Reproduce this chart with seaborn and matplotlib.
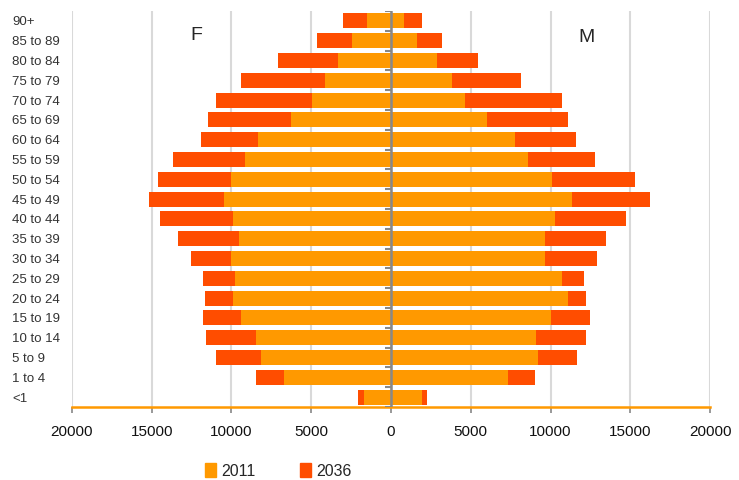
import matplotlib
matplotlib.use("Agg")
import matplotlib.pyplot as plt
import numpy as np
import pandas as pd
import seaborn as sns
from matplotlib.patches import Patch

# age bands, top of the pyramid first
AGE_GROUPS = [
    "90+", "85 to 89", "80 to 84", "75 to 79", "70 to 74", "65 to 69",
    "60 to 64", "55 to 59", "50 to 54", "45 to 49", "40 to 44", "35 to 39",
    "30 to 34", "25 to 29", "20 to 24", "15 to 19", "10 to 14", "5 to 9",
    "1 to 4", "<1",
]

FEMALE_2011 = [1500, 2440, 3310, 4125, 4940, 6250, 8310, 9125, 10000, 10440,
               9875, 9500, 10000, 9750, 9875, 9375, 8440, 8125, 6690, 1690]
FEMALE_2036 = [2980, 4625, 7060, 9375, 11000, 11500, 11940, 13690, 14625, 15190,
               14500, 13375, 12560, 11810, 11690, 11810, 11625, 11000, 8440, 2060]
MALE_2011 = [810, 1625, 2875, 3810, 4625, 6000, 7750, 8560, 10125, 11375,
             10310, 9625, 9625, 10690, 11125, 10000, 9060, 9190, 7310, 1940]
MALE_2036 = [1940, 3190, 5440, 8125, 10750, 11125, 11625, 12810, 15310, 16250,
             14750, 13500, 12940, 12125, 12250, 12500, 12250, 11690, 9000, 2250]

X_TICKS = [-20000, -15000, -10000, -5000, 0, 5000, 10000, 15000, 20000]

COLOR_2011 = "#FF9900"
COLOR_2036 = "#FF4D00"
GRID = "#D9D9D9"
AXIS_GRAY = "#888888"


def main() -> None:
    sns.set_theme(style="white")
    plt.rcParams["font.family"] = ["Liberation Sans", "DejaVu Sans"]

    df = pd.DataFrame({
        "age": AGE_GROUPS,
        "f2011": -np.array(FEMALE_2011),
        "f2036": -np.array(FEMALE_2036),
        "m2011": MALE_2011,
        "m2036": MALE_2036,
    })

    fig = plt.figure(figsize=(7.39, 4.8), dpi=100)
    ax = fig.add_axes([72 / 739, 1 - 407 / 480, (710 - 72) / 739, (407 - 11) / 480])

    bar_kw = dict(y="age", order=AGE_GROUPS, orient="h", width=0.76,
                  saturation=1, linewidth=0, ax=ax)
    sns.barplot(data=df, x="f2036", color=COLOR_2036, **bar_kw)
    sns.barplot(data=df, x="m2036", color=COLOR_2036, **bar_kw)
    sns.barplot(data=df, x="f2011", color=COLOR_2011, **bar_kw)
    sns.barplot(data=df, x="m2011", color=COLOR_2011, **bar_kw)

    ax.set_xlim(-20000, 20000)
    ax.set_ylim(len(AGE_GROUPS) - 0.5, -0.5)
    ax.set_xlabel("")
    ax.set_ylabel("")

    ax.set_xticks(X_TICKS)
    ax.set_xticklabels([str(abs(v)) for v in X_TICKS], fontsize=11)
    ax.tick_params(axis="x", length=4, width=1.2, color=AXIS_GRAY, pad=9,
                   bottom=True, labelcolor="#111111")

    ax.tick_params(axis="y", length=0, pad=43, labelsize=9.5, labelcolor="#333333")
    for label in ax.get_yticklabels():
        label.set_horizontalalignment("left")

    ax.grid(axis="x", color=GRID, linewidth=1.5)
    ax.set_axisbelow(True)
    for side in ["top", "left", "right"]:
        ax.spines[side].set_visible(False)
    ax.spines["bottom"].set_color(COLOR_2011)
    ax.spines["bottom"].set_linewidth(1.8)

    # centre category axis with ticks between bands
    ax.axvline(0, color=AXIS_GRAY, linewidth=1.8, zorder=5)
    ax.hlines(np.arange(len(AGE_GROUPS) + 1) - 0.5, -380, 0,
              color=AXIS_GRAY, linewidth=1.5, zorder=5)

    fig.text(196 / 739, 1 - 36 / 480, "F", fontsize=14, ha="center", va="center")
    fig.text(587 / 739, 1 - 38 / 480, "M", fontsize=14, ha="center", va="center")

    handles = [Patch(color=COLOR_2011, label="2011"), Patch(color=COLOR_2036, label="2036")]
    fig.legend(handles=handles, loc="center", bbox_to_anchor=(278 / 739, 1 - 471 / 480),
               ncol=2, frameon=False, fontsize=11.5, handlelength=0.7, handleheight=1.0,
               handletextpad=0.3, columnspacing=2.8)

    fig.savefig("out.png", dpi=100)
    plt.close(fig)


if __name__ == "__main__":
    main()
